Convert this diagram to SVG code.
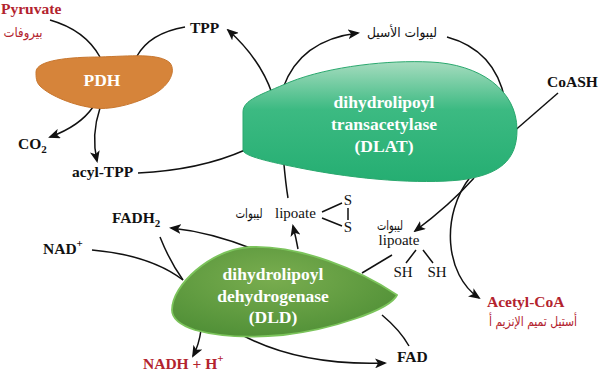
<svg xmlns="http://www.w3.org/2000/svg" width="606" height="377" viewBox="0 0 606 377">
<defs>
<style>
.b{font-family:"Liberation Serif","DejaVu Serif",serif;font-weight:bold;font-size:15.5px;fill:#111}
.n{font-family:"Liberation Serif","DejaVu Serif",serif;font-size:15px;fill:#111}
.ar{font-family:"DejaVu Sans","Noto Sans",sans-serif;font-size:13.5px;fill:#111}
.w{font-family:"Liberation Serif","DejaVu Serif",serif;font-weight:bold;font-size:17.5px;fill:#fff}
.r{fill:#b3232e}
.c{fill:none;stroke:#111;stroke-width:1.5}
.a{marker-end:url(#ah)}
</style>
<marker id="ah" markerUnits="userSpaceOnUse" markerWidth="12" markerHeight="10" refX="10" refY="5" orient="auto">
<path d="M0,0 L12,5 L0,10 L3,5 Z" fill="#111"/>
</marker>
<linearGradient id="gDLAT" x1="0" y1="0" x2="0" y2="1">
<stop offset="0" stop-color="#a6dcbf"/>
<stop offset="0.4" stop-color="#3cba82"/>
<stop offset="1" stop-color="#25ae72"/>
</linearGradient>
<radialGradient id="gDLD" cx="0.45" cy="0.35" r="0.7">
<stop offset="0" stop-color="#79ad4f"/>
<stop offset="1" stop-color="#4f8f36"/>
</radialGradient>
</defs>
<rect width="606" height="377" fill="#fff"/>
<g id="connectors">
<path class="c" d="M50,20 Q85,30 100,57"/>
<path class="c" d="M185,27 Q150,33 137,56"/>
<path class="c a" d="M93,107 Q80,126 50,137"/>
<path class="c a" d="M100,108 Q91,135 97,161"/>
<path class="c" d="M138,173 Q200,170 245,150"/>
<path class="c a" d="M288,198 C278,140 290,85 228,30"/>
<path class="c a" d="M283,88 Q300,40 358,33"/>
<path class="c" d="M447,37 Q495,50 505,100"/>
<path class="c" d="M558,93 L512,133"/>
<path class="c a" d="M474,178 Q450,205 415,231"/>
<path class="c a" d="M471,176 C440,215 445,275 479,298"/>
<path class="c" d="M392,255 L362,273"/>
<path class="c a" d="M298,249 Q296,238 293,226"/>
<path class="c a" d="M253,249 Q210,232 171,228"/>
<path class="c" d="M160,237 Q170,262 183,280"/>
<path class="c" d="M92,250 Q150,255 183,280"/>
<path class="c a" d="M201,330 Q199,345 193,356"/>
<path class="c a" d="M242,335 Q300,366 385,363"/>
<path class="c" d="M382,315 Q400,330 409,346"/>
<path class="c" d="M322,212 L342,203 M322,218 L342,226 M348,208 L348,220"/>
<path class="c" d="M416,250 L406,263 M423,250 L433,263" stroke-width="1.2"/>
</g>
<g id="PDH">
<path d="M36,72 C36,60 70,57 100,57 C130,56 160,53 170,63 C177,72 168,88 150,96 C130,106 106,110 95,108 C75,106 50,96 40,86 C36,82 36,77 36,72 Z" fill="#d6843a" stroke="#c8772f" stroke-width="1"/>
<text class="w" x="102" y="86" text-anchor="middle" font-size="17">PDH</text>
</g>
<g id="DLAT">
<path d="M243,112 C243,100 260,95 290,82 C330,66 390,60 430,62 C480,64 517,90 517,130 C517,160 500,175 460,180 C420,184 360,180 300,168 C270,162 243,156 243,150 Z" fill="url(#gDLAT)" stroke="#2aa86e" stroke-width="1"/>
<text class="w" x="384" y="108" text-anchor="middle">dihydrolipoyl</text>
<text class="w" x="384" y="130" text-anchor="middle">transacetylase</text>
<text class="w" x="384" y="152" text-anchor="middle">(DLAT)</text>
</g>
<g id="DLD">
<path d="M172,310 C172,285 210,250 250,247 C300,245 360,270 397,295 C390,310 330,330 283,335 C250,338 220,337 195,330 C180,325 172,318 172,310 Z" fill="url(#gDLD)" stroke="#7cc45c" stroke-width="1.8"/>
<text class="w" x="273" y="280" text-anchor="middle">dihydrolipoyl</text>
<text class="w" x="273" y="302" text-anchor="middle">dehydrogenase</text>
<text class="w" x="273" y="323" text-anchor="middle">(DLD)</text>
</g>
<g id="pyruvate">
<text class="b r" x="1" y="14" font-size="16">Pyruvate</text>
<text class="ar r" x="23" y="37" text-anchor="middle" textLength="39" lengthAdjust="spacingAndGlyphs">بيروفات</text>
</g>
<g id="TPP"><text class="b" x="190" y="33">TPP</text></g>
<g id="acyl-lipoate"><text class="ar" x="402" y="37" text-anchor="middle" textLength="70" lengthAdjust="spacingAndGlyphs">ليبوات الأسيل</text></g>
<g id="CoASH"><text class="b" x="547" y="87">CoASH</text></g>
<g id="CO2"><text class="b" x="18" y="149">CO<tspan font-size="11" dy="4">2</tspan></text></g>
<g id="acyl-TPP"><text class="b" x="72" y="177">acyl-TPP</text></g>
<g id="FADH2"><text class="b" x="112" y="223">FADH<tspan font-size="11" dy="4">2</tspan></text></g>
<g id="NAD"><text class="b" x="43" y="254">NAD<tspan font-size="11" dy="-7">+</tspan></text></g>
<g id="lipoate-ox">
<text class="ar" x="249" y="218" text-anchor="middle" textLength="27" lengthAdjust="spacingAndGlyphs">ليبوات</text>
<text class="n" x="275" y="218">lipoate</text>
<text class="n" x="348" y="205" text-anchor="middle">S</text>
<text class="n" x="348" y="232" text-anchor="middle">S</text>
</g>
<g id="lipoate-red">
<text class="ar" x="390" y="230" text-anchor="middle" textLength="26" lengthAdjust="spacingAndGlyphs">ليبوات</text>
<text class="n" x="399" y="245" text-anchor="middle">lipoate</text>
<text class="n" x="403" y="277" text-anchor="middle">SH</text>
<text class="n" x="437" y="277" text-anchor="middle">SH</text>
</g>
<g id="acetyl-CoA">
<text class="b r" x="487" y="307" font-size="16">Acetyl-CoA</text>
<text class="ar r" x="533" y="326" text-anchor="middle" textLength="88" lengthAdjust="spacingAndGlyphs">أستيل تميم الإنزيم أ</text>
</g>
<g id="FAD"><text class="b" x="397" y="362">FAD</text></g>
<g id="NADH"><text class="b r" x="143" y="369">NADH  + H<tspan font-size="11" dy="-7">+</tspan></text></g>
</svg>
